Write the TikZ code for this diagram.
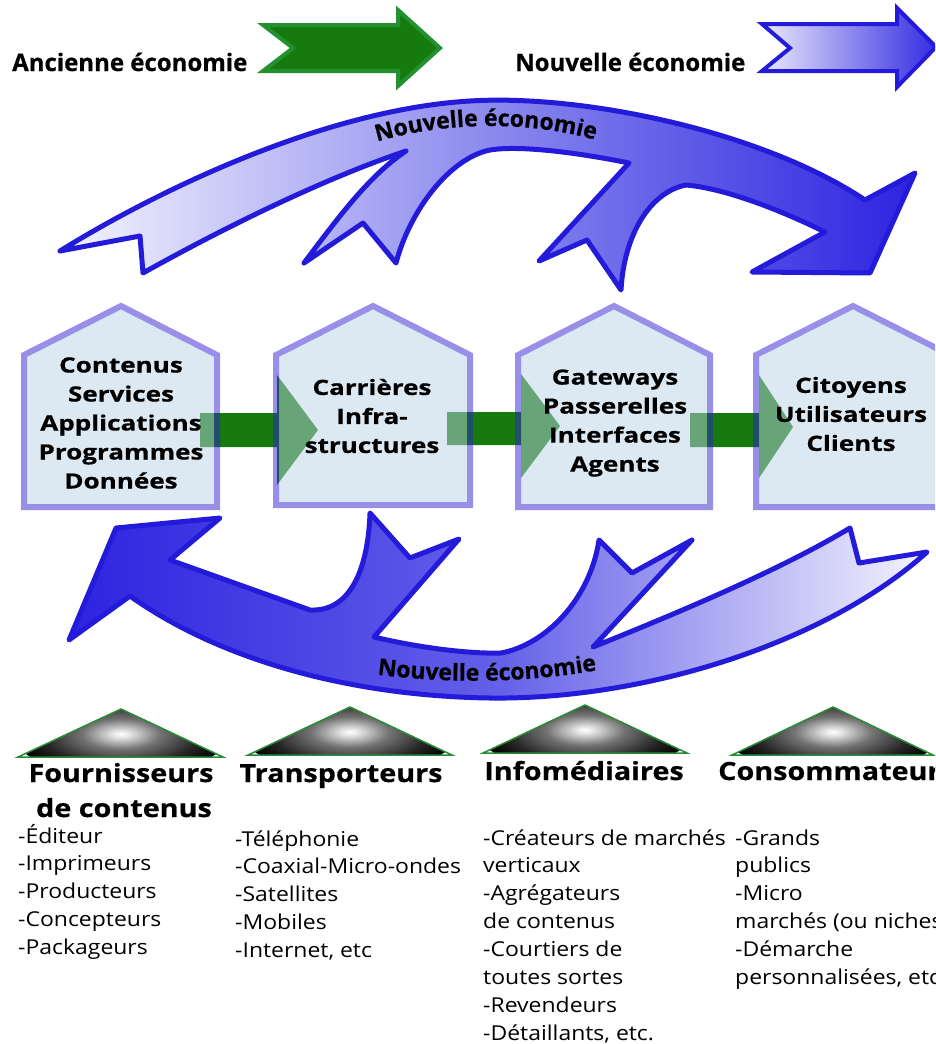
\documentclass[tikz,border=0pt]{standalone}
\usepackage{fontspec}
\setmainfont{Open Sans}
\newfontfamily\housefont{Open Sans}[FakeStretch=1.24,FakeBold=0.6]
\newfontfamily\headfont{Open Sans}[FakeStretch=1.15,FakeBold=0.6]
\newfontfamily\topfont{Open Sans}[FakeBold=0.6]
\newfontfamily\listfont{Open Sans}[FakeStretch=1.12]
\usetikzlibrary{decorations.text}
\definecolor{arrowblue}{RGB}{36,26,218}
\definecolor{lightblue}{RGB}{244,244,253}
\definecolor{midblue}{RGB}{140,138,238}
\definecolor{midblueb}{RGB}{100,96,232}
\definecolor{darkblue}{RGB}{44,36,224}
\definecolor{gfill}{RGB}{22,122,14}
\definecolor{gdraw}{RGB}{36,145,48}
\definecolor{hfill}{RGB}{185,209,229}
\definecolor{hborder}{RGB}{49,33,209}
\definecolor{tgreen}{RGB}{40,140,50}
\definecolor{chevl}{RGB}{234,234,251}
\definecolor{chevr}{RGB}{52,44,226}
\pgfdeclareradialshading{trishade}{\pgfpoint{0bp}{0bp}}{color(0bp)=(white); color(2bp)=(white!90!black); color(9bp)=(black!55); color(18bp)=(black!85); color(25bp)=(black); color(50bp)=(black)}
\newcommand\drawhousepair[4]{%
  \fill[houseinner] ({#1+3},{#4-3}) -- ({#1+3},356.9) -- (#3,309.4) -- ({#2-3},356.9) -- ({#2-3},{#4-3}) -- cycle;
  \draw[houseedge] (#1,#4) -- (#1,355) -- (#3,306) -- (#2,355) -- (#2,#4) -- cycle;}
\newcommand\drawtriangle[4]{%
  \begin{scope}
  \clip (#1,#4) -- (#2,{#4-48}) -- (#3,#4) -- cycle;
  \shade[shading=trishade] (#2,{#4-23}) ellipse [x radius=108, y radius=42];
  \end{scope}
  \draw[tri] (#1,#4) -- (#2,{#4-48}) -- (#3,#4) -- cycle;}
\begin{document}
\begin{tikzpicture}[x=1pt,y=-1pt,
  bigarrow/.style={draw=arrowblue, line width=5pt, line join=round},
  greenbar/.style={fill=gfill},
  houseedge/.style={draw=hborder, draw opacity=0.5, line width=6pt, line join=miter},
  houseinner/.style={fill=hfill, fill opacity=0.5},
  hlabel/.style={font=\housefont\bfseries\fontsize{21}{29}\selectfont, align=center, inner sep=0pt},
  toplbl/.style={font=\topfont\bfseries\fontsize{24}{24}\selectfont, inner sep=0pt, anchor=base west},
  headlbl/.style={font=\headfont\bfseries\fontsize{25}{30}\selectfont, inner sep=0pt, anchor=base},
  listlbl/.style={font=\listfont\fontsize{20.5}{28}\selectfont, inner sep=0pt, anchor=base west},
  tri/.style={draw=tgreen, line width=1.5pt, line join=miter}]
\useasboundingbox (0,0) rectangle (935,1044);
\clip (0,0) rectangle (935,1044);

% top legend
\node[toplbl] (lblold) at (12,71) {Ancienne économie};
\node[toplbl] (lblnew) at (515,71) {Nouvelle économie};
\draw[fill=gfill, draw=gdraw, line width=4pt, line join=miter]
  (263,25) -- (398,25) -- (398,10) -- (440,48) -- (398,86) -- (398,71) -- (263,71) -- (293,48) -- cycle;
\shadedraw[left color=chevl, right color=chevr, draw=arrowblue, line width=4pt, line join=miter]
  (762,24) -- (897,24) -- (897,8) -- (936,47) -- (897,87) -- (897,71) -- (762,71) -- (790,48) -- cycle;

% green flow arrows (behind houses)
\fill[greenbar] (200,413) -- (277,413) -- (277,375) -- (318,430) -- (277,485) -- (277,447) -- (200,447) -- cycle;
\fill[greenbar] (447,412) -- (521,412) -- (521,374) -- (560,426) -- (521,478) -- (521,445) -- (447,445) -- cycle;
\fill[greenbar] (690,413) -- (759,413) -- (759,375) -- (793,427) -- (759,478) -- (759,447) -- (690,447) -- cycle;

% houses
\drawhousepair{24}{217}{121}{507}
\drawhousepair{276}{470}{373}{505}
\drawhousepair{518}{710}{614}{507}
\drawhousepair{756}{950}{853}{507}

\node[hlabel] (h1) at (121,423) {Contenus\\Services\\Applications\\Programmes\\Données};
\node[hlabel] (h2) at (372,416) {Carrières\\Infra-\\structures};
\node[hlabel] (h3) at (615,423) {Gateways\\Passerelles\\Interfaces\\Agents};
\node[hlabel] (h4) at (851,414) {Citoyens\\Utilisateurs\\Clients};

% top curved arrow
\shadedraw[bigarrow, left color=lightblue, right color=darkblue, middle color=midblue]
  (60,251) .. controls (150,195) and (320,110) .. (470,101)
  .. controls (580,94) and (760,130) .. (865,200)
  -- (915,173) -- (870,273) -- (752,272) -- (825,232)
  .. controls (770,205) and (720,188) .. (686,185)
  .. controls (650,192) and (624,235) .. (621,290)
  -- (587,240) -- (539,261) -- (629,163)
  .. controls (580,153) and (520,145) .. (490,150)
  .. controls (450,158) and (410,210) .. (396,263)
  -- (363,223) -- (304,263)
  .. controls (340,215) and (370,175) .. (406,151)
  .. controls (320,180) and (220,230) .. (143,273)
  -- (140,236) -- cycle;
\path[decorate, decoration={text along path, text align=center,
  text={|\topfont\bfseries\fontsize{23}{23}\selectfont|Nouvelle économie}}]
  (366,145) .. controls (440,121) and (530,119) .. (606,143);

% bottom curved arrow
\shadedraw[bigarrow, left color=darkblue, right color=lightblue, middle color=midblueb]
  (170,560) -- (310,610)
  .. controls (350,612) and (368,570) .. (370,513)
  -- (410,558) -- (459,539) -- (374,637)
  .. controls (420,648) and (470,654) .. (501,653)
  .. controls (545,645) and (590,600) .. (599,540)
  -- (632,573) -- (692,540) -- (593,647)
  .. controls (680,612) and (780,570) .. (850,528)
  -- (859,563) -- (927,552)
  .. controls (830,640) and (650,700) .. (490,698)
  .. controls (350,696) and (220,660) .. (130,596)
  -- (69,640) -- (116,528) -- (220,518) -- cycle;
\path[decorate, decoration={text along path, text align=center,
  text={|\topfont\bfseries\fontsize{23}{23}\selectfont|Nouvelle économie}}]
  (366,673) .. controls (440,684) and (530,684) .. (608,668);

% triangles
\drawtriangle{18}{121}{223}{757}
\drawtriangle{248}{350}{452}{755}
\drawtriangle{483}{585}{687}{753}
\drawtriangle{732}{833}{933}{755}

% headings
\node[headlbl] (c1a) at (121,782) {Fournisseurs};
\node[headlbl] (c1b) at (124,817) {de contenus};
\node[headlbl] (c2a) at (341,782) {Transporteurs};
\node[headlbl] (c3a) at (584,780) {Infomédiaires};
\node[headlbl, anchor=base west] (c4a) at (718,780) {Consommateurs};

% lists
\foreach \t [count=\i] in {-Éditeur,-Imprimeurs,-Producteurs,-Concepteurs,-Packageurs}
  \node[listlbl] (c1l\i) at (18,{843+27.9*(\i-1)}) {\t};
\foreach \t [count=\i] in {-Téléphonie,-Coaxial-Micro-ondes,-Satellites,-Mobiles,{-Internet, etc}}
  \node[listlbl] (c2l\i) at (235,{846+27.9*(\i-1)}) {\t};
\foreach \t [count=\i] in {-Créateurs de marchés,verticaux,-Agrégateurs,de contenus,-Courtiers de,toutes sortes,-Revendeurs,{-Détaillants, etc.}}
  \node[listlbl] (c3l\i) at (483,{845+27.9*(\i-1)}) {\t};
\foreach \t [count=\i] in {-Grands,publics,-Micro,marchés (ou niches),-Démarche,{personnalisées, etc.}}
  \node[listlbl] (c4l\i) at (735,{845+27.9*(\i-1)}) {\t};
\end{tikzpicture}
\end{document}
